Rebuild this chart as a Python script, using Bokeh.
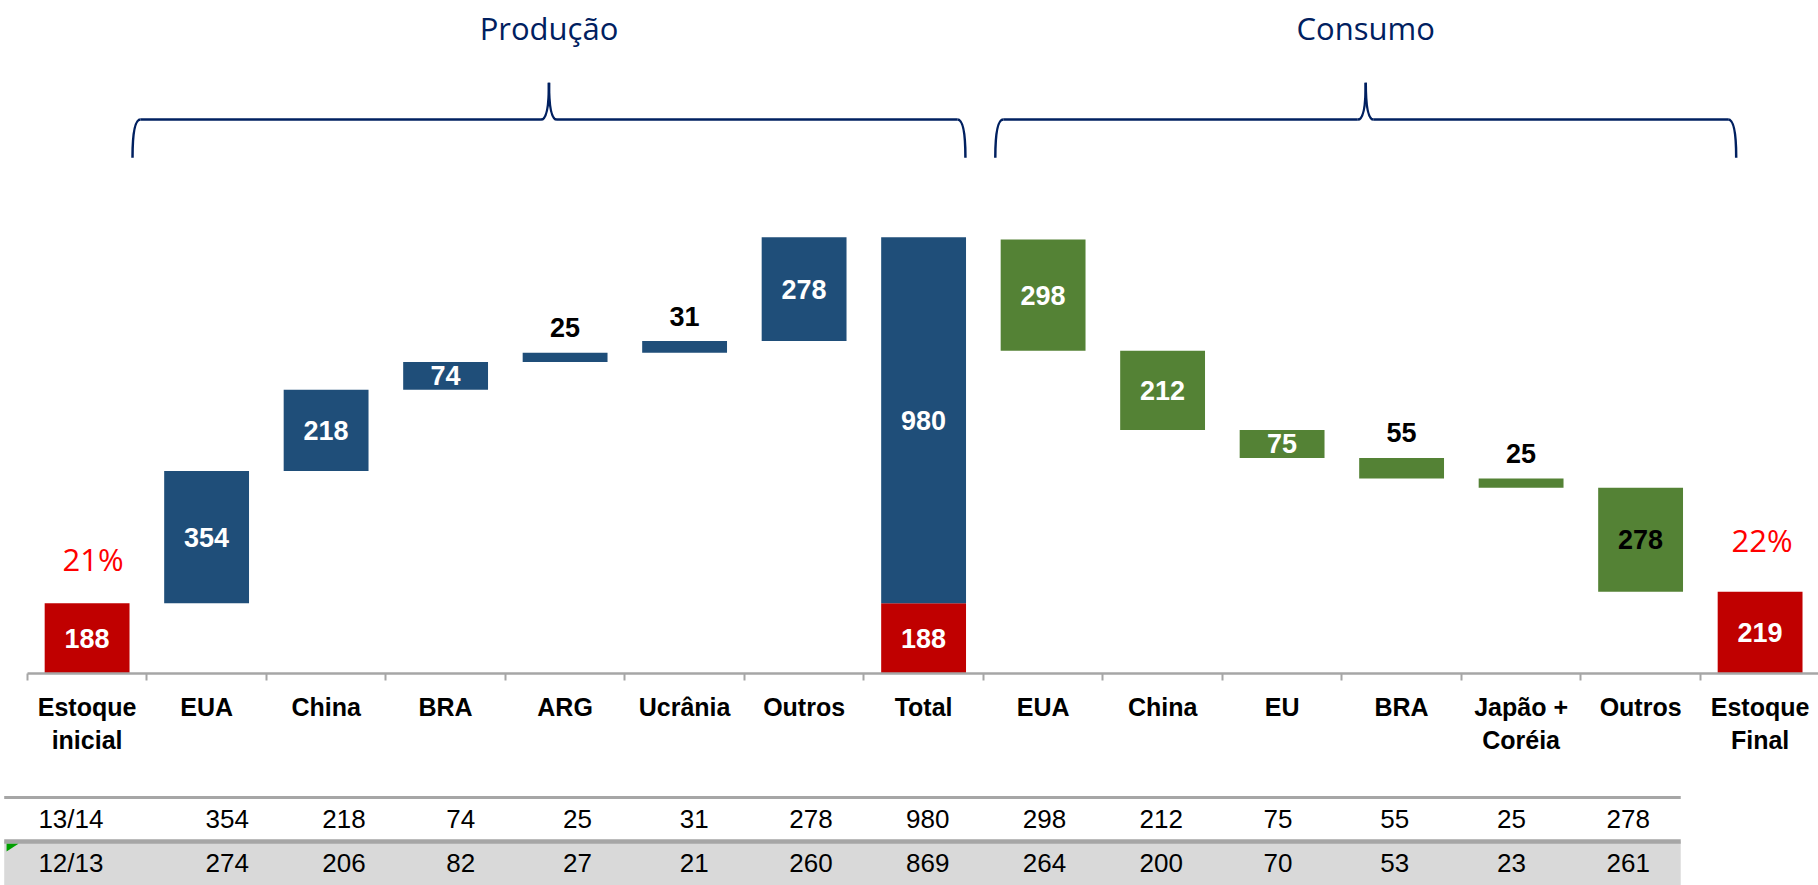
import numpy as np
from bokeh.plotting import figure
from bokeh.models import Range1d, FixedTicker, ColumnDataSource
from bokeh.layouts import column
from bokeh.embed import file_html
from bokeh.resources import INLINE
from bokeh.core.properties import value

# ---------------- data ----------------
categories = ["Estoque\ninicial", "EUA", "China", "BRA", "ARG", "Ucrânia", "Outros", "Total",
              "EUA", "China", "EU", "BRA", "Japão +\nCoréia", "Outros", "Estoque\nFinal"]
estoque_inicial = 188
producao = [354, 218, 74, 25, 31, 278]
consumo = [298, 212, 75, 55, 25, 278]
estoque_final = 219
estoque_pct = ["21%", "22%"]
groups = ["Produção", "Consumo"]

table_rows = ["13/14", "12/13"]
table_1314 = [354, 218, 74, 25, 31, 278, 980, 298, 212, 75, 55, 25, 278]
table_1213 = [274, 206, 82, 27, 21, 260, 869, 264, 200, 70, 53, 23, 261]

# ---------------- styles ----------------
BLUE = "#1F4E79"
GREEN = "#548235"
RED = "#C00000"
NAVY = "#002060"
GRAY = "#A6A6A6"
FONT = value("Liberation Sans")

# ---------------- waterfall geometry from data ----------------
prod = np.array(producao)
cons = np.array(consumo)
total = int(prod.sum())
prod_bottom = estoque_inicial + np.concatenate([[0], np.cumsum(prod)[:-1]])
prod_top = prod_bottom + prod
cons_bottom = estoque_final + np.array([cons[k + 1:].sum() for k in range(len(cons))])
cons_top = cons_bottom + cons

n_p = len(producao)
i_total = n_p + 1
i_cons0 = i_total + 1
i_final = len(categories) - 1

seg_x, seg_bot, seg_top, seg_col, seg_val, seg_lab_col = [], [], [], [], [], []

def add(x, b, t, c, v, lc="white"):
    seg_x.append(x); seg_bot.append(b); seg_top.append(t)
    seg_col.append(c); seg_val.append(v); seg_lab_col.append(lc)

add(0, 0, estoque_inicial, RED, estoque_inicial)
for k in range(n_p):
    add(1 + k, prod_bottom[k], prod_top[k], BLUE, producao[k])
add(i_total, 0, estoque_inicial, RED, estoque_inicial)
add(i_total, estoque_inicial, estoque_inicial + total, BLUE, total)
for k in range(len(consumo)):
    add(i_cons0 + k, cons_bottom[k], cons_top[k], GREEN, consumo[k],
        "black" if k == len(consumo) - 1 else "white")
add(i_final, 0, estoque_final, RED, estoque_final)

bars = ColumnDataSource(dict(x=seg_x, bottom=seg_bot, top=seg_top, color=seg_col))

small = [v < 60 for v in seg_val]
inside = ColumnDataSource(dict(
    x=[x for x, s in zip(seg_x, small) if not s],
    y=[(b + t) / 2 for b, t, s in zip(seg_bot, seg_top, small) if not s],
    text=[str(v) for v, s in zip(seg_val, small) if not s],
    color=[c for c, s in zip(seg_lab_col, small) if not s]))
above = ColumnDataSource(dict(
    x=[x for x, s in zip(seg_x, small) if s],
    y=[t for t, s in zip(seg_top, small) if s],
    text=[str(v) for v, s in zip(seg_val, small) if s]))

# ---------------- main chart ----------------
p = figure(width=1818, height=793, x_range=Range1d(-0.7247, 14.4887), y_range=Range1d(0, 1801.9),
           toolbar_location=None, output_backend="svg", y_axis_location=None,
           min_border_left=0, min_border_right=0, min_border_top=0, min_border_bottom=120,
           outline_line_color=None)
p.grid.visible = False

p.vbar(x="x", bottom="bottom", top="top", width=0.71, fill_color="color", line_color=None, source=bars)
p.text(x="x", y="y", text="text", text_color="color", source=inside, text_align="center",
       text_baseline="middle", text_font=FONT, text_font_style="bold", text_font_size="27px")
p.text(x="x", y="y", text="text", source=above, text_align="center", text_baseline="middle",
       y_offset=-25, text_color="black", text_font=FONT, text_font_style="bold", text_font_size="27px")

# stock percentages
p.text(x=[0], y=[estoque_inicial], text=[estoque_pct[0]], x_offset=6, y_offset=-44,
       text_align="center", text_baseline="middle", text_color="#FF0000",
       text_font=value("Open Sans"), text_font_size="31px")
p.text(x=[i_final], y=[estoque_final], text=[estoque_pct[1]], x_offset=2, y_offset=-52,
       text_align="center", text_baseline="middle", text_color="#FF0000",
       text_font=value("Open Sans"), text_font_size="31px")

# braces + group titles
brace_spans = [(0.38, 7.35), (7.60, 13.80)]
y_h, y_b, y_t, rx = 1483, 1381, 1582, 0.067
for (x0, x1), name in zip(brace_spans, groups):
    xm = (x0 + x1) / 2
    p.quadratic(x0=[x0, x1, xm - rx, xm + rx], y0=[y_b, y_b, y_h, y_h],
                x1=[x0 + rx, x1 - rx, xm, xm], y1=[y_h, y_h, y_t, y_t],
                cx=[x0, x1, xm, xm], cy=[y_h, y_h, y_h, y_h],
                line_color=NAVY, line_width=2.5)
    p.segment(x0=[x0 + rx, xm + rx], y0=[y_h, y_h], x1=[xm - rx, x1 - rx], y1=[y_h, y_h],
              line_color=NAVY, line_width=2.5)
    p.text(x=[xm], y=[1729], text=[name], text_align="center", text_baseline="middle",
           text_color=NAVY, text_font=value("Open Sans"), text_font_size="31px")

ax = p.xaxis[0]
ax.ticker = FixedTicker(ticks=list(range(len(categories))),
                        minor_ticks=[k - 0.5 for k in range(len(categories) + 1)])
ax.major_label_overrides = {i: c for i, c in enumerate(categories)}
ax.bounds = (-0.5, len(categories) - 0.5)
ax.major_tick_line_color = None
ax.major_tick_out = 0
ax.major_tick_in = 0
ax.minor_tick_line_color = GRAY
ax.minor_tick_line_width = 2
ax.minor_tick_out = 7
ax.minor_tick_in = 0
ax.axis_line_color = GRAY
ax.axis_line_width = 2.5
ax.major_label_standoff = 12
ax.major_label_text_font = "Liberation Sans"
ax.major_label_text_font_style = "bold"
ax.major_label_text_font_size = "25px"
ax.major_label_text_color = "black"

# ---------------- table ----------------
t = figure(width=1818, height=92, x_range=Range1d(-0.9418, 14.630), y_range=Range1d(1.5, -0.5909),
           toolbar_location=None, output_backend="svg", x_axis_location=None, y_axis_location=None,
           min_border=0, outline_line_color=None)
t.grid.visible = False
ncol = len(table_1314)
t_right = ncol + 0.45
t.quad(left=[-0.91], right=[t_right], top=[0.5], bottom=[1.6], fill_color="#D9D9D9", line_color=None)
t.segment(x0=[-0.91], x1=[t_right], y0=[-0.5], y1=[-0.5], line_color=GRAY, line_width=3)
t.segment(x0=[-0.91], x1=[t_right], y0=[0.5], y1=[0.5], line_color=GRAY, line_width=4.5)
t.patch(x=[-0.89, -0.788, -0.89], y=[0.55, 0.55, 0.73], fill_color="#00A000", line_color=None)

cols = list(range(1, ncol + 1))
tab = ColumnDataSource(dict(x=cols + cols, y=[0] * ncol + [1] * ncol,
                            text=[str(v) for v in table_1314] + [str(v) for v in table_1213]))
t.text(x="x", y="y", text="text", source=tab, text_align="center", text_baseline="middle",
       text_color="black", text_font=FONT, text_font_size="26px")
t.text(x=[0, 0], y=[0, 1], text=table_rows, text_align="right", x_offset=-7, text_baseline="middle",
       text_color="black", text_font=FONT, text_font_size="26px")

layout = column(p, t, spacing=0)
open("out.html", "w").write(file_html(layout, INLINE))
